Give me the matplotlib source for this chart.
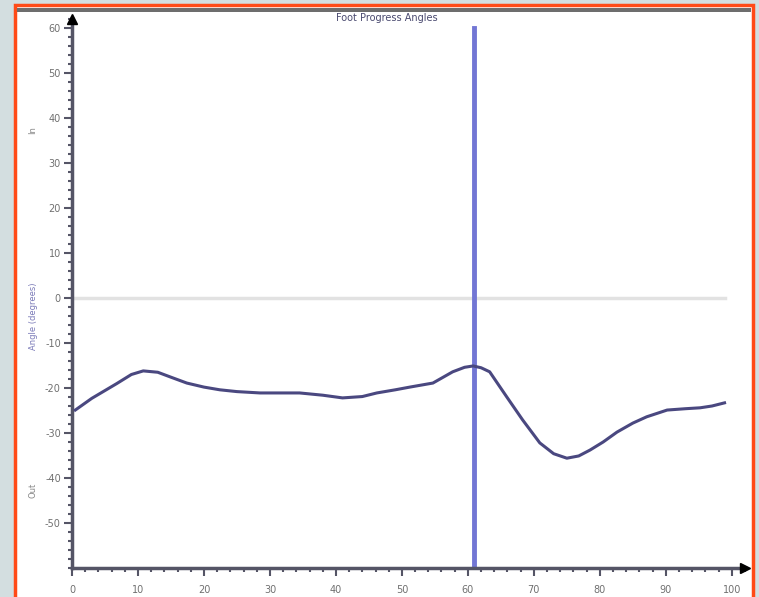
"""
Foot progress angles over the gait cycle, redrawn from a screenshot.
"""

import matplotlib.pyplot as plt
from matplotlib.patches import Rectangle
from matplotlib.ticker import MultipleLocator

# gait cycle (%) and angle (degrees)
cycle_pct = [0.5, 3, 6.8, 9, 10.8, 13, 15, 17.4, 20, 22.4, 25, 28.5,
             31.5, 34.5, 38, 41, 44, 46.2, 49, 51.2, 54.7, 57.7, 59.5,
             60.8, 62, 63.3, 65.9, 68.3, 70.9, 73, 75, 76.8, 78.5, 80.5,
             82.6, 85, 87.1, 90.2, 93, 95.2, 97, 98.9]
angle_deg = [-24.9, -22.3, -19.0, -17.0, -16.2, -16.5, -17.6, -18.9,
             -19.8, -20.4, -20.8, -21.1, -21.1, -21.1, -21.6, -22.2,
             -21.9, -21.1, -20.4, -19.8, -18.9, -16.4, -15.4, -15.1,
             -15.5, -16.4, -22.0, -27.1, -32.2, -34.6, -35.6, -35.1,
             -33.8, -32.0, -29.8, -27.8, -26.4, -24.9, -24.6, -24.4,
             -24.0, -23.3]
marker_pct = 61.0
y_ticks = [60, 50, 40, 30, 20, 10, 0, -10, -20, -30, -40, -50]
x_ticks = [0, 10, 20, 30, 40, 50, 60, 70, 80, 90, 100]

W, H = 759, 597
fig = plt.figure(figsize=(W / 100, H / 100), dpi=100)
fig.patch.set_facecolor("#d3dee0")

# white panel with orange frame and grey bar at top
fig.patches.append(Rectangle((15 / W, -0.02), (753 - 15) / W, (H - 5) / H + 0.02,
                             transform=fig.transFigure, facecolor="white",
                             edgecolor="#ff4a17", linewidth=2.5, zorder=-3))
fig.patches.append(Rectangle((17 / W, (H - 12) / H), (751 - 17) / W, 4 / H,
                             transform=fig.transFigure, facecolor="#6d6d6d",
                             edgecolor="none", zorder=-2))

ax = fig.add_axes([72 / W, (H - 568) / H, (745 - 72) / W, (568 - 19) / H])
ax.set_facecolor("none")
ax.set_xlim(0, 102)
ax.set_ylim(-60, 62)

ax.axhline(0, xmax=99 / 102, color="#e2e2e2", lw=2.5, zorder=1)
ax.axvline(marker_pct, ymax=120 / 122, color="#7276d4", lw=3.5, zorder=2)
ax.plot(cycle_pct, angle_deg, color="#4a4880", lw=2.2, zorder=3)

for side in ["top", "right"]:
    ax.spines[side].set_visible(False)
for side in ["left", "bottom"]:
    ax.spines[side].set_color("#555566")
    ax.spines[side].set_linewidth(2.5)

# axis arrows
ax.plot([0], [62], marker="^", color="black", ms=7, clip_on=False, zorder=5)
ax.plot([102], [-60], marker=">", color="black", ms=7, clip_on=False,
        zorder=5)

ax.set_yticks(y_ticks)
ax.set_yticklabels([str(v) for v in y_ticks])
ax.set_xticks(x_ticks)
ax.yaxis.set_minor_locator(MultipleLocator(2))
ax.xaxis.set_minor_locator(MultipleLocator(2))
ax.tick_params(which="major", length=6, width=1.5, color="#555566",
               labelsize=7, labelcolor="#707070", pad=2)
ax.tick_params(axis="x", which="major", pad=6)
ax.tick_params(which="minor", length=3, width=1.5, color="#555566")

fig.text(387 / W, 1 - 18 / H, "Foot Progress Angles", fontsize=7,
         color="#4a4a70", ha="center", va="center")
fig.text(33 / W, 1 - 316 / H, "Angle (degrees)", rotation=90,
         fontsize=6, color="#7a7ab8", ha="center", va="center")
fig.text(33 / W, 1 - 130 / H, "In", rotation=90, fontsize=6,
         color="#888888", ha="center", va="center")
fig.text(33 / W, 1 - 490 / H, "Out", rotation=90, fontsize=6,
         color="#888888", ha="center", va="center")

plt.savefig("out.png", dpi=100, facecolor=fig.get_facecolor())
